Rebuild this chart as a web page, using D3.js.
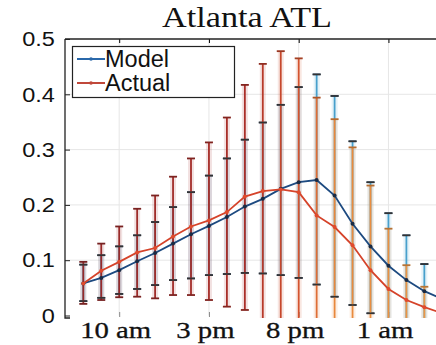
<!DOCTYPE html>
<html>
<head>
<meta charset="utf-8">
<script src="https://cdn.jsdelivr.net/npm/d3@7"></script>
<style>
  body { margin: 0; background: #fff; }
  svg { display: block; }
</style>
</head>
<body>
<div class="chart"></div>
<script>
// hour of day for each point (8 am .. 4 am next day)
var hours = [8, 9, 10, 11, 12, 13, 14, 15, 16, 17, 18, 19, 20, 21, 22, 23, 24, 25, 26, 27, 28];

var modelMean = [0.058, 0.068, 0.082, 0.098, 0.113, 0.130, 0.147, 0.162, 0.178, 0.197, 0.211,
  0.229, 0.241, 0.245, 0.217, 0.166, 0.125, 0.090, 0.064, 0.044, 0.030];
var modelLow = [0.026, 0.032, 0.039, 0.048, 0.055, 0.064, 0.067, 0.073, 0.075, 0.077, 0.076,
  0.073, 0.068, 0.056, 0.034, 0.019, 0.004, -0.010, -0.020, -0.020, -0.020];
var modelHigh = [0.092, 0.109, 0.125, 0.145, 0.169, 0.196, 0.223, 0.253, 0.284, 0.318, 0.349,
  0.381, 0.413, 0.436, 0.397, 0.315, 0.241, 0.185, 0.145, 0.093, 0.070];

var actualMean = [0.058, 0.081, 0.097, 0.114, 0.122, 0.143, 0.161, 0.172, 0.187, 0.215, 0.225,
  0.228, 0.223, 0.181, 0.160, 0.127, 0.082, 0.048, 0.028, 0.015, 0.004];
var actualLow = [0.021, 0.028, 0.033, 0.034, 0.031, 0.037, 0.037, 0.028, 0.016, 0.010, -0.010,
  -0.020, -0.030, -0.040, -0.050, -0.060, -0.060, -0.060, -0.060, -0.050, -0.040];
var actualHigh = [0.097, 0.130, 0.161, 0.193, 0.217, 0.251, 0.284, 0.313, 0.358, 0.417, 0.455,
  0.478, 0.465, 0.394, 0.355, 0.304, 0.235, 0.157, 0.091, 0.052, 0.030];

var tickHours = [10, 15, 20, 25];
var tickLabels = ['10 am', '3 pm', '8 pm', '1 am'];
var yTicks = [0, 0.1, 0.2, 0.3, 0.4, 0.5];

var svgWidth = 436;
var svgHeight = 345;
var plot = { left: 65, right: 436, top: 39, bottom: 315.5 };

var svg = d3.select('.chart')
  .append('svg')
  .attr('width', svgWidth)
  .attr('height', svgHeight);

var xScale = d3.scaleLinear()
  .domain([8, 28])
  .range([83.3, 442.3]);

var yScale = d3.scaleLinear()
  .domain([0, 0.5])
  .range([plot.bottom, plot.top]);

svg.append('defs')
  .append('clipPath')
  .attr('id', 'clip')
  .append('rect')
  .attr('x', plot.left)
  .attr('y', plot.top)
  .attr('width', plot.right - plot.left)
  .attr('height', 318 - plot.top);

// grid
svg.append('g')
  .selectAll('line')
  .data(yTicks.slice(1, 5))
  .enter()
  .append('line')
  .attr('x1', plot.left)
  .attr('x2', plot.right)
  .attr('y1', function (d) { return yScale(d); })
  .attr('y2', function (d) { return yScale(d); })
  .attr('stroke', '#e6e6e6');

svg.append('g')
  .selectAll('line')
  .data(tickHours)
  .enter()
  .append('line')
  .attr('x1', function (d) { return xScale(d); })
  .attr('x2', function (d) { return xScale(d); })
  .attr('y1', plot.top)
  .attr('y2', plot.bottom)
  .attr('stroke', '#e6e6e6');

// top frame with ticks
var xTop = d3.axisTop(xScale)
  .tickValues(tickHours)
  .tickSize(-4)
  .tickFormat('');
svg.append('g')
  .attr('transform', 'translate(0,' + plot.top + ')')
  .call(xTop)
  .call(function (g) {
    g.select('.domain').remove();
  });
svg.append('line')
  .attr('x1', plot.left)
  .attr('x2', plot.right)
  .attr('y1', plot.top)
  .attr('y2', plot.top)
  .attr('stroke', '#222')
  .attr('stroke-width', 1.3);

// bottom ticks and labels
var xAxis = d3.axisBottom(xScale)
  .tickValues(tickHours)
  .tickSize(-5)
  .tickPadding(10)
  .tickFormat(function (d, i) { return tickLabels[i]; });
var gx = svg.append('g')
  .attr('transform', 'translate(0,317)')
  .call(xAxis);
gx.select('.domain').remove();
gx.selectAll('line').attr('stroke', '#888');
gx.selectAll('text')
  .attr('font-family', '"Liberation Serif", "Times New Roman", serif')
  .attr('font-size', 23)
  .attr('fill', '#111')
  .attr('stroke', '#111')
  .attr('stroke-width', 0.3)
  .attr('dy', '0.5em')
  .attr('transform', 'translate(-4,0) scale(1.25,1)');

// left axis
var yAxis = d3.axisLeft(yScale)
  .tickValues(yTicks)
  .tickSize(-5)
  .tickPadding(9)
  .tickFormat(function (d) { return d === 0 ? '0' : d3.format('.1f')(d); });
var gy = svg.append('g')
  .attr('transform', 'translate(' + plot.left + ',0)')
  .call(yAxis);
gy.select('.domain').remove();
gy.selectAll('line').attr('stroke', '#222');
gy.selectAll('text')
  .attr('font-family', '"Liberation Sans", Arial, sans-serif')
  .attr('font-size', 21)
  .attr('fill', '#111')
  .attr('transform', 'scale(1.12,1)');

svg.append('path')
  .attr('d', 'M' + (plot.left + 5) + ',318H' + plot.left + 'V' + plot.top)
  .attr('fill', 'none')
  .attr('stroke', '#222')
  .attr('stroke-width', 1.3);

// error bars
var bars = svg.append('g').attr('clip-path', 'url(#clip)');

var actualColor = d3.scaleLinear()
  .domain([0, 9, 12, 14, 20])
  .range(['#962a2a', '#aa2e28', '#d4532e', '#e8883c', '#ec9a48']);
var modelColor = '#48a0cc';
var capW = 4;

function drawBars(lows, highs, colorFn, capColorFn) {
  hours.forEach(function (h, i) {
    var x = xScale(h);
    var c = colorFn(i);
    bars.append('line')
      .attr('x1', x).attr('x2', x)
      .attr('y1', yScale(lows[i])).attr('y2', yScale(highs[i]))
      .attr('stroke', c)
      .attr('stroke-opacity', 0.14)
      .attr('stroke-width', 6);
    bars.append('line')
      .attr('x1', x).attr('x2', x)
      .attr('y1', yScale(lows[i])).attr('y2', yScale(highs[i]))
      .attr('stroke', c)
      .attr('stroke-width', 1.8);
    [lows[i], highs[i]].forEach(function (v) {
      bars.append('line')
        .attr('x1', x - capW).attr('x2', x + capW)
        .attr('y1', yScale(v)).attr('y2', yScale(v))
        .attr('stroke', capColorFn(i))
        .attr('stroke-width', 1.8);
    });
  });
}

drawBars(modelLow, modelHigh, function () { return modelColor; }, function () { return '#1f3b58'; });
drawBars(actualLow, actualHigh, actualColor, function (i) {
  return d3.color(actualColor(i)).darker(0.7);
});

// model caps on top of the actual bars
hours.forEach(function (h, i) {
  [modelLow[i], modelHigh[i]].forEach(function (v) {
    bars.append('line')
      .attr('x1', xScale(h) - capW).attr('x2', xScale(h) + capW)
      .attr('y1', yScale(v)).attr('y2', yScale(v))
      .attr('stroke', '#333')
      .attr('stroke-width', 1.5);
  });
});

// lines
var lines = svg.append('g').attr('clip-path', 'url(#clip)');

function drawSeries(values, color, dotColor) {
  var line = d3.line()
    .x(function (d, i) { return xScale(hours[i]); })
    .y(function (d) { return yScale(d); });
  lines.append('path')
    .datum(values)
    .attr('d', line)
    .attr('fill', 'none')
    .attr('stroke', color)
    .attr('stroke-width', 1.8);
  lines.selectAll(null)
    .data(values)
    .enter()
    .append('circle')
    .attr('cx', function (d, i) { return xScale(hours[i]); })
    .attr('cy', function (d) { return yScale(d); })
    .attr('r', 2)
    .attr('fill', dotColor);
}

drawSeries(modelMean, '#1d4a80', '#1a2b44');
drawSeries(actualMean, '#d5432a', '#e04a2c');

// title
svg.append('text')
  .attr('transform', 'translate(247,27) scale(1.14,1)')
  .attr('text-anchor', 'middle')
  .attr('font-family', '"Liberation Serif", "Times New Roman", serif')
  .attr('font-size', 30)
  .attr('fill', '#111')
  .text('Atlanta ATL');

// legend
var legend = svg.append('g');
legend.append('rect')
  .attr('x', 72.5)
  .attr('y', 46.5)
  .attr('width', 162)
  .attr('height', 51)
  .attr('fill', '#fff')
  .attr('stroke', '#222')
  .attr('stroke-width', 1.2);

var legendItems = [
  { name: 'Model', color: '#2a68aa', y: 59 },
  { name: 'Actual', color: '#c0483a', y: 83 }
];
legendItems.forEach(function (d) {
  legend.append('line')
    .attr('x1', 77).attr('x2', 105)
    .attr('y1', d.y).attr('y2', d.y)
    .attr('stroke', d.color)
    .attr('stroke-width', 2);
  legend.append('circle')
    .attr('cx', 91).attr('cy', d.y).attr('r', 1.8)
    .attr('fill', d.color);
  legend.append('text')
    .attr('x', 105)
    .attr('y', d.y + 8)
    .attr('font-family', '"Liberation Sans", Arial, sans-serif')
    .attr('font-size', 23.5)
    .attr('fill', '#111')
    .text(d.name);
});
</script>
</body>
</html>
